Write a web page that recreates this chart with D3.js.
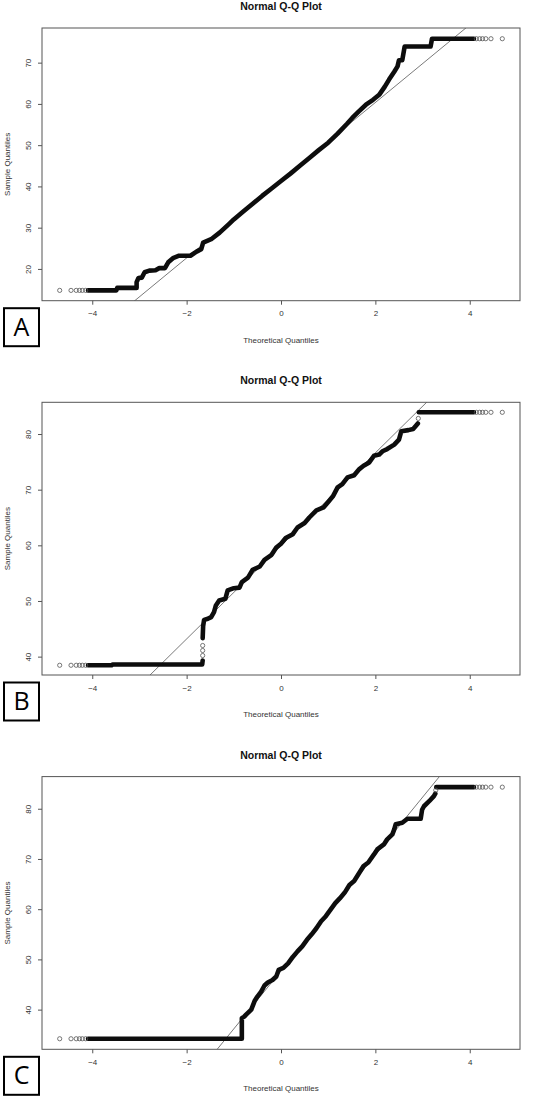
<!DOCTYPE html>
<html>
<head>
<meta charset="utf-8">
<script src="https://cdn.jsdelivr.net/npm/d3@7"></script>
<style>
html,body{margin:0;padding:0;background:#fff;}
svg{display:block;}
</style>
</head>
<body>
<svg id="chart" width="549" height="1098"></svg>
<script>
// ---------------- DATA ----------------
const panelLabels = ["A", "B", "C"];
const chartTitle = "Normal Q-Q Plot";
const xTitle = "Theoretical Quantiles";
const yTitle = "Sample Quantiles";
const xTicks = [-4, -2, 0, 2, 4];
const yTicksA = [20, 30, 40, 50, 60, 70];
const yTicksB = [40, 50, 60, 70, 80];
const yTicksC = [40, 50, 60, 70, 80];
const xDomain = [-5.065, 5.065];
const yDomainA = [12.3, 78.4];
const yDomainB = [36.7, 85.7];
const yDomainC = [32.1, 86.4];

// sparse (open circle) tail quantiles
const tailLowQ = [-4.69, -4.45, -4.34, -4.27, -4.21, -4.14];
const tailHighQ = [4.14, 4.21, 4.27, 4.34, 4.45, 4.69];
const tailValsA = [14.8, 75.8];
const tailValsB = [38.45, 83.9];
const tailValsC = [34.2, 84.3];

// dense part of the sample (theoretical quantile, sample quantile); null = gap
const quantA = [-4.09,-3.49,-3.47,-3.06,-3.06,-3.02,-2.95,-2.89,-2.79,-2.66,-2.58,-2.46,-2.39,-2.29,-2.16,-1.92,-1.79,-1.69,-1.65,-1.48,-1.30,-1.11,-1.0,-0.8,-0.6,-0.4,-0.2,0,0.2,0.4,0.6,0.8,1.0,1.2,1.4,1.51,1.65,1.80,1.95,2.08,2.20,2.29,2.40,2.47,2.50,2.57,2.62,3.17,3.20,4.09];
const sampleA = [14.8,14.8,15.4,15.4,16.8,17.8,17.9,19.2,19.6,19.7,20.2,20.2,21.6,22.6,23.2,23.2,24.2,24.8,26.4,27.2,28.8,30.8,32.0,33.9,35.8,37.7,39.5,41.3,43.1,45.0,46.9,48.8,50.6,52.8,55.2,56.6,58.2,59.8,61.0,62.2,64.2,65.9,67.8,69.1,70.6,70.6,73.9,73.9,75.8,75.8];

const quantB = [-4.09,-3.59,-3.57,-1.67,-1.66,null,-1.66,-1.65,-1.63,-1.55,-1.48,-1.42,-1.38,-1.31,-1.18,-1.13,-1.0,-0.88,-0.83,-0.7,-0.6,-0.45,-0.35,-0.2,-0.1,0,0.1,0.25,0.35,0.5,0.6,0.75,0.9,1.0,1.1,1.2,1.3,1.41,1.55,1.66,1.75,1.87,1.97,2.08,2.15,2.25,2.40,2.50,2.55,2.70,2.80,2.86,2.90,null,2.92,4.09];
const sampleB = [38.45,38.45,38.6,38.6,39.3,null,43.3,45.5,46.6,46.8,47.1,48.0,49.2,50.1,50.4,51.9,52.3,52.4,53.4,54.2,55.6,56.2,57.4,58.3,59.6,60.3,61.3,62.0,63.2,64.0,65.0,66.3,66.8,67.8,68.8,70.4,71.0,72.2,72.6,73.7,74.3,74.9,76.1,76.3,76.9,77.3,78.1,79.0,80.5,80.7,80.9,81.5,81.9,null,83.9,83.9];

const quantC = [-4.09,-0.83,-0.83,-0.78,-0.74,-0.63,-0.56,-0.5,-0.42,-0.35,-0.28,-0.18,-0.1,-0.05,0.05,0.15,0.25,0.35,0.45,0.55,0.65,0.75,0.85,0.95,1.05,1.15,1.25,1.35,1.45,1.55,1.65,1.75,1.85,1.97,2.04,2.18,2.25,2.36,2.40,2.43,2.57,2.68,2.96,2.99,3.03,3.14,3.24,3.27,null,3.29,4.09];
const sampleC = [34.2,34.2,38.3,38.6,39.0,40.0,41.7,42.6,43.6,44.8,45.4,45.9,46.6,47.9,48.3,49.2,50.5,51.6,52.6,53.9,55.0,56.2,57.6,58.6,59.9,61.2,62.2,63.3,64.8,65.6,67.1,68.6,69.3,70.9,71.9,72.9,73.9,74.9,75.9,76.9,77.2,78.0,78.0,79.8,80.5,81.5,82.5,83.0,null,84.3,84.3];

// extra isolated points at the jumps
const jumpQB = [-1.66, -1.66, -1.66, 2.91];
const jumpVB = [40.2, 41.1, 42.0, 82.8];
const jumpQC = [3.28];
const jumpVC = [83.7];

// qqline (intercept, slope)
const lineA = [41.5, 9.42];
const lineB = [59.9, 8.36];
const lineC = [47.7, 11.53];

// ---------------- DRAWING ----------------
const svg = d3.select("#chart");
const left = 42, right = 520, panelH = 272.7, step = 374.3, firstTop = 28;

const panels = [
  {q: quantA, v: sampleA, tail: tailValsA, yDom: yDomainA, yTicks: yTicksA, line: lineA, jq: [], jv: []},
  {q: quantB, v: sampleB, tail: tailValsB, yDom: yDomainB, yTicks: yTicksB, line: lineB, jq: jumpQB, jv: jumpVB},
  {q: quantC, v: sampleC, tail: tailValsC, yDom: yDomainC, yTicks: yTicksC, line: lineC, jq: jumpQC, jv: jumpVC}
];

const font = "'Liberation Sans', Arial, sans-serif";

panels.forEach((p, i) => {
  const top = firstTop + i * step;
  const bottom = top + panelH;
  const x = d3.scaleLinear().domain(xDomain).range([left, right]);
  const y = d3.scaleLinear().domain(p.yDom).range([bottom, top]);
  const g = svg.append("g");

  const clipId = "clip" + i;
  svg.append("clipPath").attr("id", clipId).append("rect")
    .attr("x", left).attr("y", top).attr("width", right - left).attr("height", panelH);

  // title
  g.append("text").attr("x", (left + right) / 2).attr("y", top - 18)
    .attr("text-anchor", "middle").attr("font-family", font)
    .attr("font-weight", "bold").attr("font-size", 10.5).attr("fill", "#111")
    .text(chartTitle);

  // qq line
  const lx = xDomain;
  g.append("line").attr("clip-path", `url(#${clipId})`)
    .attr("x1", x(lx[0])).attr("y1", y(p.line[0] + p.line[1] * lx[0]))
    .attr("x2", x(lx[1])).attr("y2", y(p.line[0] + p.line[1] * lx[1]))
    .attr("stroke", "#7a7a7a").attr("stroke-width", 1);

  // dense points as a thick path
  const pts = p.q.map((d, k) => [d, p.v[k]]);
  const lineGen = d3.line().defined(d => d[0] !== null && d[1] !== null)
    .x(d => x(d[0])).y(d => y(d[1]));
  g.append("path").datum(pts).attr("d", lineGen)
    .attr("fill", "none").attr("stroke", "#0d0d0d").attr("stroke-width", 4.6)
    .attr("stroke-linejoin", "round").attr("stroke-linecap", "round");

  // open circles at the tails
  const circ = tailLowQ.map(q => [q, p.tail[0]])
    .concat(tailHighQ.map(q => [q, p.tail[1]]))
    .concat(p.jq.map((q, k) => [q, p.jv[k]]));
  g.selectAll("circle.pt").data(circ).enter().append("circle")
    .attr("cx", d => x(d[0])).attr("cy", d => y(d[1])).attr("r", 2.1)
    .attr("fill", "none").attr("stroke", "#555").attr("stroke-width", 0.8);

  // box
  g.append("rect").attr("x", left).attr("y", top).attr("width", right - left).attr("height", panelH)
    .attr("fill", "none").attr("stroke", "#555").attr("stroke-width", 1);

  // x axis
  const xa = g.append("g").attr("transform", `translate(0,${bottom})`)
    .call(d3.axisBottom(x).tickValues(xTicks).tickSize(4).tickSizeOuter(0).tickPadding(6).tickFormat(d3.format("d")));
  xa.select(".domain").remove();
  xa.selectAll("line").attr("stroke", "#555");
  xa.selectAll("text").attr("font-family", font).attr("font-size", 8).attr("fill", "#333");

  // y axis
  const ya = g.append("g").attr("transform", `translate(${left},0)`)
    .call(d3.axisLeft(y).tickValues(p.yTicks).tickSize(4).tickSizeOuter(0).tickFormat(d3.format("d")));
  ya.select(".domain").remove();
  ya.selectAll("line").attr("stroke", "#555");
  ya.selectAll("text").attr("font-family", font).attr("font-size", 8).attr("fill", "#333")
    .attr("x", null).attr("dy", null)
    .attr("text-anchor", "middle")
    .attr("transform", "translate(-11,0) rotate(-90)");

  // axis titles
  g.append("text").attr("x", (left + right) / 2).attr("y", bottom + 42)
    .attr("text-anchor", "middle").attr("font-family", font).attr("font-size", 8).attr("fill", "#333")
    .text(xTitle);
  g.append("text").attr("transform", `translate(10,${(top + bottom) / 2}) rotate(-90)`)
    .attr("text-anchor", "middle").attr("font-family", font).attr("font-size", 8).attr("fill", "#333")
    .text(yTitle);

  // panel label box
  g.append("rect").attr("x", 4).attr("y", bottom + 7.5).attr("width", 35).attr("height", 38)
    .attr("fill", "#fff").attr("stroke", "#000").attr("stroke-width", 2);
  g.append("text").attr("x", 21.5).attr("y", bottom + 35)
    .attr("text-anchor", "middle").attr("font-family", "'Open Sans', 'Liberation Sans', sans-serif")
    .attr("font-size", 25).attr("fill", "#000")
    .text(panelLabels[i]);
});
</script>
</body>
</html>
